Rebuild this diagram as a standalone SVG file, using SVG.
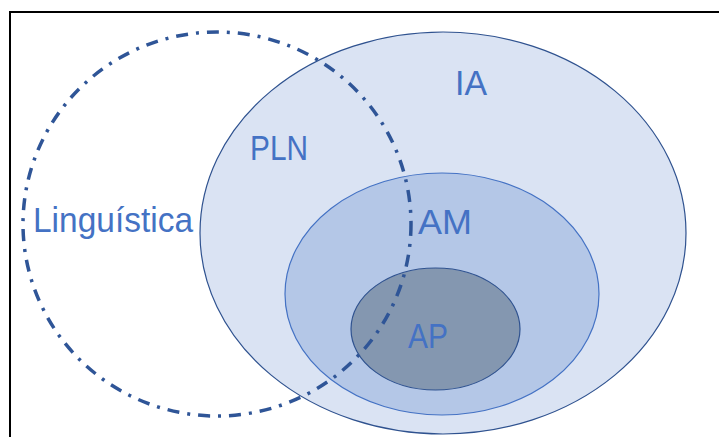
<svg xmlns="http://www.w3.org/2000/svg" width="719" height="437" viewBox="0 0 719 437">
  <style>
    .lbl { font-family: "Liberation Sans", Arial, sans-serif; font-size: 35px; fill: #4472c4; }
  </style>
  <rect width="719" height="437" fill="#ffffff"/>
  <!-- frame, open on the right and bottom -->
  <rect x="10" y="12" width="720" height="440" fill="none" stroke="#000000" stroke-width="2"/>

  <g id="ia">
    <ellipse cx="443" cy="233" rx="243" ry="201" fill="#dae3f3" stroke="#2f528f" stroke-width="1.2"/>
    <text class="lbl" x="455" y="95" textLength="32" lengthAdjust="spacingAndGlyphs">IA</text>
  </g>
  <g id="am">
    <ellipse cx="442" cy="294" rx="157" ry="121" fill="#b4c7e7" stroke="#4472c4" stroke-width="1.2"/>
    <text class="lbl" x="418" y="234" textLength="54" lengthAdjust="spacingAndGlyphs">AM</text>
  </g>
  <g id="ap">
    <ellipse cx="435.5" cy="329" rx="84.5" ry="61" fill="#8497b0" stroke="#2f528f" stroke-width="1.2"/>
    <text class="lbl" x="408" y="348" textLength="40" lengthAdjust="spacingAndGlyphs">AP</text>
  </g>
  <g id="pln">
    <text class="lbl" x="250" y="160" textLength="58" lengthAdjust="spacingAndGlyphs">PLN</text>
  </g>
  <g id="linguistica">
    <ellipse cx="217" cy="224" rx="194" ry="192" fill="none" stroke="#2f5597" stroke-width="3.5" stroke-dasharray="12 8 3 8"/>
    <text class="lbl" x="33" y="232" textLength="160" lengthAdjust="spacingAndGlyphs">Linguística</text>
  </g>
</svg>
